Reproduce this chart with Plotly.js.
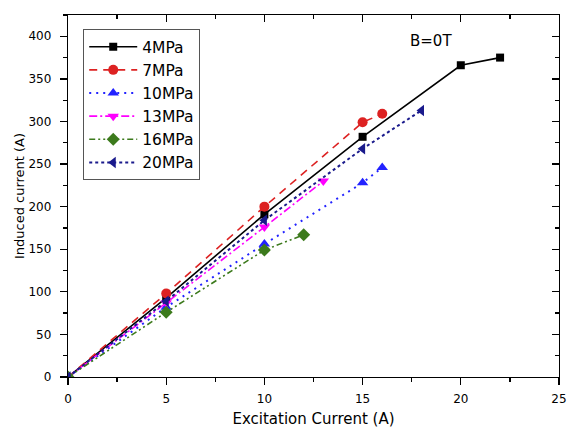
<!DOCTYPE html>
<html>
<head>
<meta charset="utf-8">
<script src="https://cdn.plot.ly/plotly-3.0.1.min.js"></script>
<style>html,body{margin:0;padding:0;background:#fff;}#chart{width:568px;height:429px;}</style>
</head>
<body>
<div id="chart"></div>
<script>
// Data
var seriesNames = ["4MPa", "7MPa", "10MPa", "13MPa", "16MPa", "20MPa"];
var x4 = [0, 5, 10, 15, 20, 22];
var y4 = [0, 93, 191, 282, 366, 375];
var x7 = [0, 5, 10, 15, 16];
var y7 = [0, 98, 200, 299, 309];
var x10 = [0, 5, 10, 15, 16];
var y10 = [0, 82, 156, 228, 246];
var x13 = [0, 5, 10, 13];
var y13 = [0, 87, 176, 230];
var x16 = [0, 5, 10, 12];
var y16 = [0, 76, 149, 167];
var x20 = [0, 5, 10, 15, 18];
var y20 = [0, 89, 184, 268, 313];
var xTickVals = [0, 5, 10, 15, 20, 25];
var yTickVals = [0, 50, 100, 150, 200, 250, 300, 350, 400];
var annotationText = "B=0T";

var FONT = "DejaVu Sans, Arial, sans-serif";

function tr(name, xs, ys, color, dash, symbol, size, width) {
  return {
    type: "scatter", mode: "lines+markers", name: name, x: xs, y: ys,
    line: {color: color, dash: dash, width: width || 1.6},
    marker: {color: color, symbol: symbol, size: size},
    cliponaxis: true
  };
}

var data = [
  tr(seriesNames[0], x4, y4, "#000000", "solid", "square", 8, 1.6),
  tr(seriesNames[1], x7, y7, "#dd2222", "8px,6px", "circle", 10, 1.6),
  tr(seriesNames[2], x10, y10, "#2222ff", "2px,5px", "triangle-up", 10, 2),
  tr(seriesNames[3], x13, y13, "#ff00ff", "8px,3px,2px,3px", "triangle-down", 10, 1.6),
  tr(seriesNames[4], x16, y16, "#3c7a1c", "6px,3px,2px,3px,2px,3px", "diamond", 10, 1.6),
  tr(seriesNames[5], x20, y20, "#1a1a8c", "3px,3px", "triangle-left", 10, 2),
  {type: "scatter", mode: "none", x: [], y: [], xaxis: "x2", yaxis: "y2", showlegend: false, hoverinfo: "skip"}
];

var axisCommon = {
  showline: true, linecolor: "#000", linewidth: 1.3,
  showgrid: false, zeroline: false,
  tickcolor: "#000", tickwidth: 1.3, ticklen: 7,
  tickfont: {family: FONT, size: 12, color: "#000"},
  ticklabeloverflow: "allow"
};

var layout = {
  width: 568, height: 429,
  margin: {l: 68, r: 9, t: 15, b: 52},
  paper_bgcolor: "#fff", plot_bgcolor: "#fff",
  font: {family: FONT, color: "#000"},
  showlegend: true,
  xaxis: Object.assign({}, axisCommon, {
    range: [0, 25], tickmode: "array", tickvals: xTickVals, ticks: "outside",
    ticklabelstandoff: 3,
    minor: {dtick: 2.5, ticks: "outside", ticklen: 4, tickcolor: "#000", tickwidth: 1.3},
    title: {text: "Excitation Current (A)", font: {family: FONT, size: 15, color: "#000"}, standoff: 8}
  }),
  yaxis: Object.assign({}, axisCommon, {
    range: [0, 425], tickmode: "array", tickvals: yTickVals, ticks: "outside",
    ticklabelstandoff: 6,
    minor: {dtick: 25, ticks: "outside", ticklen: 4, tickcolor: "#000", tickwidth: 1.3},
    title: {text: "Induced current (A)", font: {family: FONT, size: 13, color: "#000"}, standoff: 0}
  }),
  xaxis2: Object.assign({}, axisCommon, {
    overlaying: "x", side: "top", anchor: "y2", range: [0, 25],
    tickmode: "array", tickvals: xTickVals, ticks: "inside", showticklabels: false,
    minor: {dtick: 2.5, ticks: "inside", ticklen: 4, tickcolor: "#000", tickwidth: 1.3}
  }),
  yaxis2: Object.assign({}, axisCommon, {
    overlaying: "y", side: "right", anchor: "x2", range: [0, 425],
    tickmode: "array", tickvals: yTickVals, ticks: "inside", showticklabels: false,
    minor: {dtick: 25, ticks: "inside", ticklen: 4, tickcolor: "#000", tickwidth: 1.3}
  }),
  legend: {
    x: 0.031, y: 0.961, xanchor: "left", yanchor: "top",
    bgcolor: "#fff", bordercolor: "#555", borderwidth: 1,
    font: {family: FONT, size: 15.5, color: "#000"},
    itemwidth: 48, tracegroupgap: 0
  },
  annotations: [{
    x: 18.5, y: 394, xref: "x", yref: "y", text: annotationText, showarrow: false,
    font: {family: FONT, size: 15, color: "#000"}
  }]
};

Plotly.newPlot("chart", data, layout, {displayModeBar: false, staticPlot: true});
</script>
</body>
</html>
